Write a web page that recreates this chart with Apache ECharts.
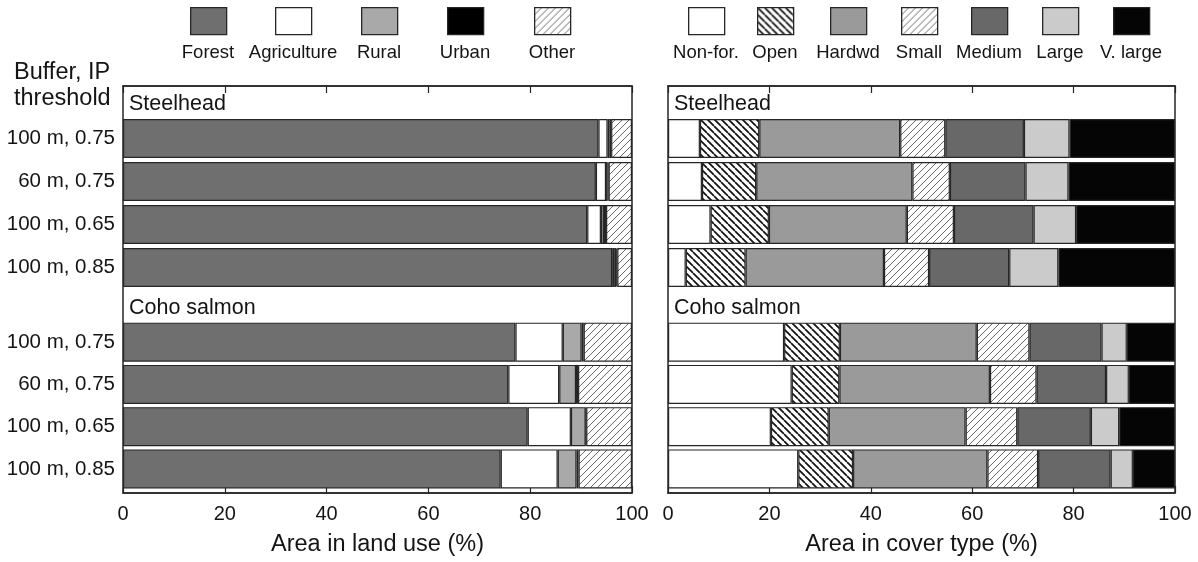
<!DOCTYPE html>
<html>
<head>
<meta charset="utf-8">
<title>Land use and cover type within stream buffers</title>
<script src="https://cdn.jsdelivr.net/npm/echarts@6/dist/echarts.min.js"></script>
<style>
  html, body { margin: 0; padding: 0; background: #fff; }
  #chart { width: 1198px; height: 562px; }
</style>
</head>
<body>
<div id="chart"></div>
<script>
// ---- data ----------------------------------------------------------------
const rowLabels = ['100 m, 0.75', '60 m, 0.75', '100 m, 0.65', '100 m, 0.85'];
const groups = ['Steelhead', 'Coho salmon'];
const axisTitles = ['Area in land use (%)', 'Area in cover type (%)'];
const rowHeader = 'Buffer, IP\nthreshold';

const landUseTypes = ['Forest', 'Agriculture', 'Rural', 'Urban', 'Other'];
const coverTypes = ['Non-for.', 'Open', 'Hardwd', 'Small', 'Medium', 'Large', 'V. large'];

// land use (%), one row per type, one value per buffer/threshold row
const landSteelhead = [
  [93.4, 92.9, 91.2, 96.1],   // Forest
  [1.8, 2.0, 2.7, 0.4],       // Agriculture
  [0.4, 0.3, 0.6, 0.4],       // Rural
  [0.3, 0.2, 0.4, 0.2],       // Urban
  [4.1, 4.6, 5.1, 2.9]        // Other
];
const landCoho = [
  [77.1, 75.7, 79.5, 74.2],
  [9.3, 10.0, 8.5, 11.2],
  [3.7, 3.3, 2.9, 3.7],
  [0.4, 0.4, 0.1, 0.4],
  [9.5, 10.6, 9.0, 10.5]
];

// cover type (%)
const coverSteelhead = [
  [6.3, 6.7, 8.4, 3.5],       // Non-for.
  [11.7, 10.7, 11.5, 11.8],   // Open
  [27.8, 30.8, 27.2, 27.3],   // Hardwd
  [8.9, 7.4, 9.3, 8.9],       // Small
  [15.5, 14.9, 15.7, 15.8],   // Medium
  [9.0, 8.5, 8.4, 9.7],       // Large
  [20.8, 21.0, 19.5, 23.0]    // V. large
];
const coverCoho = [
  [22.9, 24.4, 20.3, 25.7],
  [11.0, 9.4, 11.4, 10.8],
  [27.0, 29.7, 27.0, 26.5],
  [10.4, 9.2, 10.2, 10.0],
  [14.2, 13.7, 14.5, 14.3],
  [5.0, 4.5, 5.6, 4.4],
  [9.5, 9.1, 11.0, 8.3]
];

// ---- layout ----------------------------------------------------------------
const FONT = 'Liberation Sans, Arial, Helvetica, sans-serif';
const INK = '#141414';
const EDGE = '#262626';
const frameTop = 86, frameBottom = 500;
const panels = [
  { left: 123, width: 509 },
  { left: 668, width: 507 }
];
const sections = [
  { top: 117, height: 172, header: 104 },
  { top: 321, height: 169, header: 308 }
];
const barWidth = 39;
const legendTop = 7, legendW = 36, legendH = 27, legendLabelY = 53;
const legendLeft = [
  [190, 275, 361, 447, 534],
  [688, 757, 830, 901, 971, 1042, 1113]
];

// ---- fills ---------------------------------------------------------------
function hatch(dir, stroke, lw, step) {
  const c = document.createElement('canvas');
  c.width = step; c.height = step;
  const g = c.getContext('2d');
  g.fillStyle = '#ffffff';
  g.fillRect(0, 0, step, step);
  g.strokeStyle = stroke;
  g.lineWidth = lw;
  g.beginPath();
  for (const k of [-step, 0, step]) {
    if (dir === '/') { g.moveTo(k, step); g.lineTo(k + step, 0); }
    else { g.moveTo(k, 0); g.lineTo(k + step, step); }
  }
  g.stroke();
  return { image: c, repeat: 'repeat' };
}
const fwdHatch = hatch('/', '#6a6a6a', 1, 7);
const backHatch = hatch('\\', '#111111', 1.7, 7);

const landFill = ['#6f6f6f', '#ffffff', '#a9a9a9', '#000000', fwdHatch];
const coverFill = ['#ffffff', backHatch, '#9a9a9a', fwdHatch, '#686868', '#cbcbcb', '#050505'];

// ---- chart ---------------------------------------------------------------
const grid = [], xAxis = [], yAxis = [], series = [], legend = [], graphic = [];

panels.forEach((p, pi) => {
  // outer frame with inward ticks on top and bottom
  const frameIdx = grid.length;
  grid.push({
    left: p.left, width: p.width, top: frameTop, height: frameBottom - frameTop,
    show: true, borderColor: EDGE, borderWidth: 1.5, backgroundColor: 'transparent'
  });
  xAxis.push({
    gridIndex: frameIdx, type: 'value', min: 0, max: 100, interval: 20, position: 'bottom',
    axisLine: { show: true, lineStyle: { color: EDGE, width: 1.5 } },
    axisTick: { show: true, inside: true, length: 7, lineStyle: { color: EDGE, width: 1.2 } },
    splitLine: { show: false },
    axisLabel: { show: true, margin: 11, fontSize: 20, color: INK, fontFamily: FONT },
    name: axisTitles[pi], nameLocation: 'middle', nameGap: 40,
    nameTextStyle: { fontSize: 23.5, color: INK, fontFamily: FONT }
  });
  xAxis.push({
    gridIndex: frameIdx, type: 'value', min: 0, max: 100, interval: 20, position: 'top',
    axisLine: { show: true, lineStyle: { color: EDGE, width: 1.5 } },
    axisTick: { show: true, inside: true, length: 7, lineStyle: { color: EDGE, width: 1.2 } },
    splitLine: { show: false }, axisLabel: { show: false }
  });
  yAxis.push({ gridIndex: frameIdx, type: 'value', min: 0, max: 1, show: false });

  const types = pi === 0 ? landUseTypes : coverTypes;
  const fills = pi === 0 ? landFill : coverFill;
  const tables = pi === 0 ? [landSteelhead, landCoho] : [coverSteelhead, coverCoho];

  sections.forEach((s, si) => {
    const gi = grid.length;
    grid.push({ left: p.left, width: p.width, top: s.top, height: s.height, show: false });
    const xi = xAxis.length;
    xAxis.push({ gridIndex: gi, type: 'value', min: 0, max: 100, show: false });
    const yi = yAxis.length;
    yAxis.push({
      gridIndex: gi, type: 'category', inverse: true, data: rowLabels,
      axisLine: { show: false }, axisTick: { show: false },
      axisLabel: { show: pi === 0, margin: 8, fontSize: 20.5, color: INK, fontFamily: FONT }
    });
    types.forEach((t, ti) => {
      series.push({
        type: 'bar', name: t, stack: 'p' + pi + 's' + si,
        xAxisIndex: xi, yAxisIndex: yi, data: tables[si][ti],
        barWidth: barWidth, silent: true,
        itemStyle: { color: fills[ti], borderColor: EDGE, borderWidth: 1.2 }
      });
    });

    graphic.push({
      type: 'text', x: p.left + 6, y: s.header, silent: true,
      style: { text: groups[si], font: '21.5px ' + FONT, fill: INK, textVerticalAlign: 'middle' }
    });
  });

  types.forEach((t, ti) => {
    legend.push({
      data: [t], left: legendLeft[pi][ti], top: legendTop, padding: 0,
      itemWidth: legendW, itemHeight: legendH, icon: 'rect', selectedMode: false,
      formatter: () => '',
      itemStyle: { borderColor: EDGE, borderWidth: 1.3 }
    });
    graphic.push({
      type: 'text', x: legendLeft[pi][ti] + legendW / 2, y: legendLabelY, silent: true,
      style: { text: t, font: '18.5px ' + FONT, fill: INK, textAlign: 'center', textVerticalAlign: 'middle' }
    });
  });
});

graphic.push({
  type: 'text', x: 14, y: 60, silent: true,
  style: { text: rowHeader, font: '23.5px ' + FONT, fill: INK, lineHeight: 26, textVerticalAlign: 'top' }
});

const chart = echarts.init(document.getElementById('chart'), null, { renderer: 'canvas' });
chart.setOption({
  animation: false,
  backgroundColor: '#ffffff',
  textStyle: { fontFamily: FONT },
  grid, xAxis, yAxis, series, legend, graphic
});
</script>
</body>
</html>
